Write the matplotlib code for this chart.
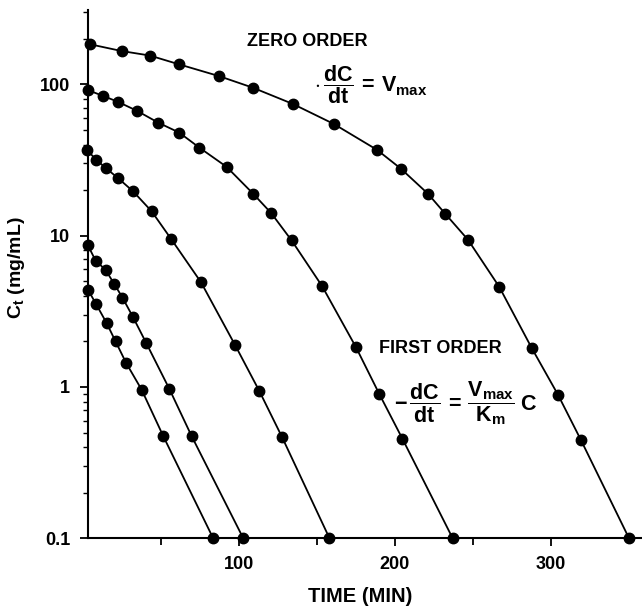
import matplotlib
matplotlib.use('Agg')
import matplotlib.pyplot as plt
from matplotlib.ticker import FixedLocator, LogLocator, NullFormatter, FixedFormatter

plt.rcParams['font.family'] = ['Liberation Sans', 'DejaVu Sans']
plt.rcParams['font.weight'] = 'bold'
plt.rcParams['mathtext.fontset'] = 'custom'
plt.rcParams['mathtext.rm'] = 'Liberation Sans:bold'
plt.rcParams['mathtext.it'] = 'Liberation Sans:bold'
plt.rcParams['mathtext.bf'] = 'Liberation Sans:bold'
plt.rcParams['mathtext.sf'] = 'Liberation Sans:bold'

# time (min) and concentration (mg/mL), one list pair per curve
t_a = [4.6, 24.9, 43.0, 61.8, 87.3, 109.1, 134.7, 161.0, 188.7, 204.0, 221.4, 232.3, 247.0, 267.0, 288.0, 304.7, 319.5, 350.3]
c_a = [184, 166, 155, 135.5, 113.4, 95, 74.2, 54.7, 36.9, 27.7, 18.9, 14.0, 9.4, 4.6, 1.80, 0.89, 0.445, 0.1]

t_b = [3.1, 13.1, 22.7, 34.9, 48.4, 61.8, 74.7, 92.2, 109.3, 120.8, 133.9, 153.4, 175.2, 190.1, 204.9, 237.2]
c_b = [91.7, 83.8, 76.5, 66.7, 55.8, 48.0, 38.2, 28.5, 18.9, 14.1, 9.3, 4.65, 1.83, 0.90, 0.456, 0.1]

t_c = [2.8, 8.5, 14.7, 22.8, 32.3, 44.1, 56.5, 75.8, 97.8, 113.2, 127.7, 158.2]
c_c = [36.7, 31.8, 28.0, 23.9, 19.6, 14.5, 9.55, 4.92, 1.88, 0.94, 0.468, 0.1]

t_d = [3.1, 8.2, 14.6, 20.1, 25.4, 32.0, 40.8, 55.4, 69.8, 102.9]
c_d = [8.7, 6.84, 5.94, 4.80, 3.90, 2.92, 1.94, 0.975, 0.473, 0.1]

t_e = [3.5, 8.5, 15.3, 21.0, 27.8, 37.7, 51.6, 83.6]
c_e = [4.36, 3.53, 2.64, 2.0, 1.44, 0.96, 0.473, 0.1]

x_major = [100, 200, 300]
x_minor = [50, 150, 250]
y_major = [0.1, 1, 10, 100]
y_labels = ['0.1', '1', '10', '100']

fig = plt.figure(figsize=(6.42, 6.13), dpi=100)
ax = fig.add_axes([0.1375, 0.1219, 0.861, 0.8618])

for t, c in [(t_a, c_a), (t_b, c_b), (t_c, c_c), (t_d, c_d), (t_e, c_e)]:
    ax.plot(t, c, color='black', linewidth=1.3, marker='o', markersize=7.5,
            markerfacecolor='black', markeredgecolor='black', clip_on=False, zorder=3)

ax.set_yscale('log')
ax.set_xlim(3.5, 358)
ax.set_ylim(0.1, 310)

ax.spines['top'].set_visible(False)
ax.spines['right'].set_visible(False)
ax.spines['left'].set_linewidth(1.5)
ax.spines['bottom'].set_linewidth(1.5)

ax.xaxis.set_major_locator(FixedLocator(x_major))
ax.xaxis.set_minor_locator(FixedLocator(x_minor))
ax.yaxis.set_major_locator(FixedLocator(y_major))
ax.yaxis.set_major_formatter(FixedFormatter(y_labels))
ax.yaxis.set_minor_locator(LogLocator(base=10, subs=range(2, 10)))
ax.yaxis.set_minor_formatter(NullFormatter())

ax.tick_params(axis='both', which='major', direction='out', length=6, width=1.3, labelsize=13, pad=7)
ax.tick_params(axis='x', which='minor', direction='out', length=5, width=1.3)
ax.tick_params(axis='y', which='minor', direction='out', length=3.5, width=1.0)
for lab in ax.get_xticklabels() + ax.get_yticklabels():
    lab.set_fontweight('bold')

ax.set_xlabel('TIME (MIN)', fontsize=14.5, fontweight='bold', va='center')
ax.xaxis.set_label_coords(0.4916, -0.111)
ax.set_ylabel(r'C$_t$ (mg/mL)', fontsize=14, fontweight='bold', va='center')
ax.yaxis.set_label_coords(-0.129, 0.5116)

ax.text(0.3966, 0.940, 'ZERO ORDER', transform=ax.transAxes, ha='center', va='center',
        fontsize=13, fontweight='bold')
ax.text(0.5115, 0.858, r'$\cdot\,\dfrac{dC}{dt}\,=\,V_{max}$', transform=ax.transAxes,
        ha='center', va='center', fontsize=15.5)

ax.text(0.6363, 0.360, 'FIRST ORDER', transform=ax.transAxes, ha='center', va='center',
        fontsize=13, fontweight='bold')
ax.text(0.683, 0.256, r'$-\,\dfrac{dC}{dt}\,=\,\dfrac{V_{max}}{K_m}\;C$', transform=ax.transAxes,
        ha='center', va='center', fontsize=15.5)

fig.savefig('out.png', dpi=100)
